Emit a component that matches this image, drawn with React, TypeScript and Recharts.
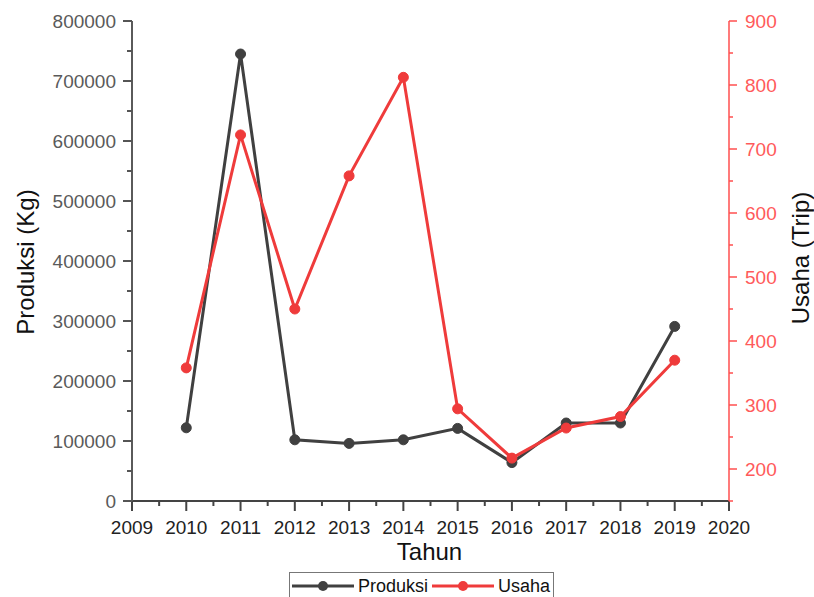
import React from 'react';
import { LineChart, Line, XAxis, YAxis, Legend, Label } from 'recharts';

const years = [2010, 2011, 2012, 2013, 2014, 2015, 2016, 2017, 2018, 2019];
const produksi = [122000, 745000, 102000, 96000, 102000, 121000, 64000, 130000, 130000, 291000];
const usaha = [358, 722, 450, 658, 812, 294, 217, 264, 282, 370];

const xTicks = [2009, 2009.5, 2010, 2010.5, 2011, 2011.5, 2012, 2012.5, 2013, 2013.5, 2014, 2014.5, 2015, 2015.5, 2016, 2016.5, 2017, 2017.5, 2018, 2018.5, 2019, 2019.5, 2020];
const leftTicks = [0, 50000, 100000, 150000, 200000, 250000, 300000, 350000, 400000, 450000, 500000, 550000, 600000, 650000, 700000, 750000, 800000];
const rightTicks = [150, 200, 250, 300, 350, 400, 450, 500, 550, 600, 650, 700, 750, 800, 850, 900];

const data = years.map((y, i) => ({ year: y, produksi: produksi[i], usaha: usaha[i] }));

const FONT = "'Liberation Sans', Arial, sans-serif";
const GRAY = '#404040';
const RED = '#ef3b3b';
const RED_AXIS = '#ff4f4f';

const BottomTick = (props: any) => {
  const { x, y, payload } = props;
  const major = Number.isInteger(payload.value);
  return (
    <g>
      <line x1={x} x2={x} y1={y} y2={y + (major ? 10 : 5)} stroke="#444" strokeWidth={2} />
      {major && (
        <text x={x} y={y + 33} textAnchor="middle" fontSize={19} fontFamily={FONT} fill="#222">
          {payload.value}
        </text>
      )}
    </g>
  );
};

const TopTick = (props: any) => {
  const { x, y, payload } = props;
  const major = Number.isInteger(payload.value);
  return <line x1={x} x2={x} y1={y} y2={y + (major ? 8 : 4)} stroke="#333" strokeWidth={1.5} />;
};

const LeftTick = (props: any) => {
  const { x, y, payload } = props;
  const major = payload.value % 100000 === 0;
  return (
    <g>
      <line x1={x - (major ? 9 : 5)} x2={x} y1={y} y2={y} stroke="#555" strokeWidth={2} />
      {major && (
        <text x={x - 16} y={y} dy="0.35em" textAnchor="end" fontSize={19} fontFamily={FONT} fill="#5a5a5a">
          {payload.value}
        </text>
      )}
    </g>
  );
};

const RightTick = (props: any) => {
  const { x, y, payload } = props;
  const major = payload.value % 100 === 0;
  return (
    <g>
      <line x1={x} x2={x + (major ? 8 : 4)} y1={y} y2={y} stroke={RED_AXIS} strokeWidth={1.5} />
      {major && (
        <text x={x + 16} y={y} dy="0.35em" textAnchor="start" fontSize={19} fontFamily={FONT} fill="#ff5a5a">
          {payload.value}
        </text>
      )}
    </g>
  );
};

const LegendContent = () => {
  const item = (color: string, label: string, textW: number) => (
    <div style={{ display: 'flex', alignItems: 'center' }}>
      <svg width={62} height={14} style={{ display: 'block' }}>
        <line x1={0} x2={62} y1={7} y2={7} stroke={color} strokeWidth={3} />
        <circle cx={31} cy={7} r={5} fill={color} />
      </svg>
      <span style={{ marginLeft: 4, width: textW, fontSize: 18, fontFamily: FONT, color: '#111', lineHeight: '24px' }}>
        {label}
      </span>
    </div>
  );
  return (
    <div
      style={{
        boxSizing: 'border-box',
        border: '1px solid #777',
        height: 28,
        width: 265,
        display: 'flex',
        alignItems: 'center',
        paddingLeft: 2,
        background: '#fff',
      }}
    >
      {item(GRAY, 'Produksi', 74)}
      {item(RED, 'Usaha', 56)}
    </div>
  );
};

export default function App() {
  return (
    <div style={{ position: 'absolute', left: 0, top: 0, width: 814, height: 597, background: '#fff' }}>
      <LineChart width={814} height={597} data={data} margin={{ top: 21, right: 0, left: 0, bottom: 0 }}>
        <XAxis
          dataKey="year"
          type="number"
          domain={[2009, 2020]}
          ticks={xTicks}
          interval={0}
          height={68}
          tickSize={0}
          tickMargin={0}
          tickLine={false}
          axisLine={{ stroke: '#444', strokeWidth: 2 }}
          tick={<BottomTick />}
        >
          <Label
            content={(p: any) => {
              const vb = p.viewBox;
              return (
                <text x={vb.x + vb.width / 2 - 1} y={vb.y + 59} textAnchor="middle" fontSize={24} fontFamily={FONT} fill="#111">
                  Tahun
                </text>
              );
            }}
          />
        </XAxis>
        <XAxis
          xAxisId="top"
          dataKey="year"
          orientation="top"
          type="number"
          domain={[2009, 2020]}
          ticks={xTicks}
          interval={0}
          height={0}
          tickSize={0}
          tickMargin={0}
          tickLine={false}
          axisLine={{ stroke: '#333', strokeWidth: 1.5 }}
          tick={<TopTick />}
        />
        <YAxis
          yAxisId="left"
          orientation="left"
          width={132}
          domain={[0, 800000]}
          ticks={leftTicks}
          interval={0}
          tickSize={0}
          tickMargin={0}
          tickLine={false}
          axisLine={{ stroke: '#5a5a5a', strokeWidth: 2 }}
          tick={<LeftTick />}
        >
          <Label
            content={(p: any) => {
              const vb = p.viewBox;
              const cx = 25;
              const cy = vb.y + vb.height / 2 + 1;
              return (
                <text x={cx} y={cy} transform={`rotate(-90 ${cx} ${cy})`} textAnchor="middle" dominantBaseline="central" fontSize={24} fontFamily={FONT} fill="#111">
                  Produksi (Kg)
                </text>
              );
            }}
          />
        </YAxis>
        <YAxis
          yAxisId="right"
          orientation="right"
          width={85}
          domain={[150, 900]}
          ticks={rightTicks}
          interval={0}
          tickSize={0}
          tickMargin={0}
          tickLine={false}
          axisLine={{ stroke: RED_AXIS, strokeWidth: 1.5 }}
          tick={<RightTick />}
        >
          <Label
            content={(p: any) => {
              const vb = p.viewBox;
              const cx = vb.x + 71;
              const cy = vb.y + vb.height / 2 - 3;
              return (
                <text x={cx} y={cy} transform={`rotate(-90 ${cx} ${cy})`} textAnchor="middle" dominantBaseline="central" fontSize={24} fontFamily={FONT} fill="#111">
                  Usaha (Trip)
                </text>
              );
            }}
          />
        </YAxis>
        <Legend
          verticalAlign="bottom"
          height={28}
          content={<LegendContent />}
          wrapperStyle={{ left: 289, bottom: undefined, top: 572, width: 265, height: 28 }}
        />
        <Line
          yAxisId="left"
          type="linear"
          dataKey="produksi"
          stroke={GRAY}
          strokeWidth={3}
          dot={{ r: 5, fill: GRAY, stroke: GRAY, strokeWidth: 1 }}
          activeDot={false}
          isAnimationActive={false}
        />
        <Line
          yAxisId="right"
          type="linear"
          dataKey="usaha"
          stroke={RED}
          strokeWidth={3}
          dot={{ r: 5, fill: RED, stroke: RED, strokeWidth: 1 }}
          activeDot={false}
          isAnimationActive={false}
        />
      </LineChart>
    </div>
  );
}
